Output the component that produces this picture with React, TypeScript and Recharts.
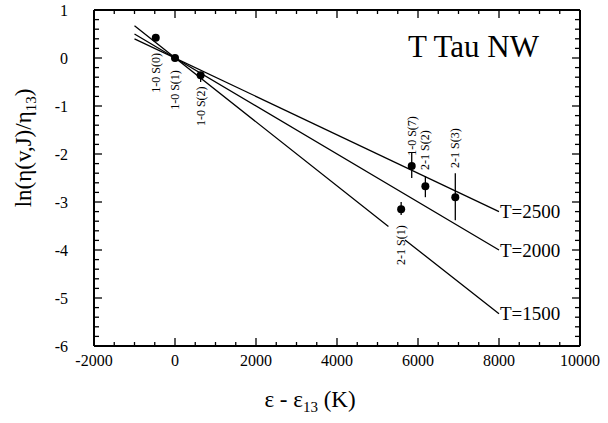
import React from 'react';
import { ComposedChart, Line, Scatter, XAxis, YAxis, ErrorBar, LabelList } from 'recharts';

const FONT = '"Liberation Serif", "Times New Roman", serif';

// tick values (major + minor), majors get labels
const xTicks = [
  -2000, -1500, -1000, -500, 0, 500, 1000, 1500, 2000, 2500, 3000, 3500, 4000,
  4500, 5000, 5500, 6000, 6500, 7000, 7500, 8000, 8500, 9000, 9500, 10000,
];
const yTicks = Array.from({ length: 36 }, (_, i) => Math.round((-6 + i * 0.2) * 10) / 10);

// measured lines
const lineNames = ['1-0 S(0)', '1-0 S(1)', '1-0 S(2)', '1-0 S(7)', '2-1 S(1)', '2-1 S(2)', '2-1 S(3)'];
const energies = [-475, 0, 633, 5845, 5584, 6182, 6921];
const lnValues = [0.42, 0, -0.36, -2.25, -3.15, -2.67, -2.9];
const errLow = [0, 0, 0.14, 0.25, 0.12, 0.23, 0.48];
const errHigh = [0, 0, 0.07, 0.27, 0.15, 0.21, 0.5];

// model lines
const t2500 = [
  { x: -1000, y: 0.4 },
  { x: 8000, y: -3.2 },
];
const t2000 = [
  { x: -1000, y: 0.5 },
  { x: 8000, y: -4.0 },
];
const t1500 = [
  { x: -1000, y: 0.67 },
  { x: 5270, y: -3.51 },
  { x: 5475, y: null },
  { x: 5680, y: -3.79 },
  { x: 8000, y: -5.33 },
];

const points = lineNames.map((name, i) => ({
  name,
  x: energies[i],
  y: lnValues[i],
  err: [errLow[i], errHigh[i]],
}));

// label placement (px, + = below the point)
const labelShift: Record<string, number> = {
  '1-0 S(0)': 35,
  '1-0 S(1)': 32,
  '1-0 S(2)': 31,
  '1-0 S(7)': -30,
  '2-1 S(1)': 36,
  '2-1 S(2)': -36,
  '2-1 S(3)': -49,
};

const isMajorX = (v: number) => v % 2000 === 0;
const isMajorY = (v: number) => Math.abs(v - Math.round(v)) < 1e-6;

const bottomTick = (props: any) => {
  const { x, y, payload } = props;
  const major = isMajorX(payload.value);
  return (
    <g>
      <line x1={x} x2={x} y1={y} y2={y - (major ? 8 : 4)} stroke="#000" strokeWidth={1.3} />
      {major && (
        <text x={x} y={y + 14} textAnchor="middle" dominantBaseline="central" fontSize={16} fontFamily={FONT} fill="#000">
          {payload.value}
        </text>
      )}
    </g>
  );
};

const topTick = (props: any) => {
  const { x, y, payload } = props;
  const major = isMajorX(payload.value);
  return <line x1={x} x2={x} y1={y} y2={y + (major ? 8 : 4)} stroke="#000" strokeWidth={1.3} />;
};

const leftTick = (props: any) => {
  const { x, y, payload } = props;
  const major = isMajorY(payload.value);
  return (
    <g>
      <line x1={x} x2={x + (major ? 8 : 5)} y1={y} y2={y} stroke="#000" strokeWidth={1.3} />
      {major && (
        <text x={x - 26} y={y} textAnchor="end" dominantBaseline="central" fontSize={16} fontFamily={FONT} fill="#000">
          {Math.round(payload.value)}
        </text>
      )}
    </g>
  );
};

const rightTick = (props: any) => {
  const { x, y, payload } = props;
  const major = isMajorY(payload.value);
  return <line x1={x} x2={x - (major ? 8 : 5)} y1={y} y2={y} stroke="#000" strokeWidth={1.3} />;
};

const PointShape = (props: any) => {
  const { cx, cy, payload } = props;
  const shift = labelShift[payload.name] ?? 30;
  return (
    <g>
      <circle cx={cx} cy={cy} r={4} fill="#000" />
      <text
        transform={`translate(${cx},${cy + shift}) rotate(-90)`}
        textAnchor="middle"
        dominantBaseline="central"
        fontSize={12}
        fontFamily={FONT}
        fill="#000"
      >
        {payload.name}
      </text>
    </g>
  );
};

const endLabel = (text: string, last: number) => (props: any) => {
  const { x, y, index } = props;
  if (index !== last) return null;
  return (
    <text x={x + 1} y={y} dominantBaseline="central" fontSize={19} fontFamily={FONT} fill="#000">
      {text}
    </text>
  );
};

const axisLine = { stroke: '#000', strokeWidth: 2 };

export default function App() {
  return (
    <div style={{ position: 'absolute', left: 0, top: 0, width: 608, height: 423, background: '#fff' }}>
      <ComposedChart width={608} height={423} margin={{ top: 9, right: 27, bottom: 0, left: 0 }}>
        <XAxis
          xAxisId="bottom"
          type="number"
          dataKey="x"
          domain={[-2000, 10000]}
          ticks={xTicks}
          interval={0}
          height={77}
          stroke="#000"
          axisLine={axisLine}
          tickLine={false}
          tickSize={0}
          tickMargin={0}
          tick={bottomTick}
        />
        <XAxis
          xAxisId="top"
          orientation="top"
          type="number"
          dataKey="x"
          domain={[-2000, 10000]}
          ticks={xTicks}
          interval={0}
          height={1}
          stroke="#000"
          axisLine={axisLine}
          tickLine={false}
          tickSize={0}
          tickMargin={0}
          tick={topTick}
        />
        <YAxis
          yAxisId="left"
          type="number"
          domain={[-6, 1]}
          ticks={yTicks}
          interval={0}
          width={94}
          stroke="#000"
          axisLine={axisLine}
          tickLine={false}
          tickSize={0}
          tickMargin={0}
          tick={leftTick}
        />
        <YAxis
          yAxisId="right"
          orientation="right"
          type="number"
          domain={[-6, 1]}
          ticks={yTicks}
          interval={0}
          width={1}
          stroke="#000"
          axisLine={axisLine}
          tickLine={false}
          tickSize={0}
          tickMargin={0}
          tick={rightTick}
        />
        <Line xAxisId="bottom" yAxisId="left" data={t2500} dataKey="y" type="linear" stroke="#000" strokeWidth={1.3} dot={false} isAnimationActive={false}>
          <LabelList dataKey="y" content={endLabel('T=2500', t2500.length - 1)} />
        </Line>
        <Line xAxisId="bottom" yAxisId="left" data={t2000} dataKey="y" type="linear" stroke="#000" strokeWidth={1.3} dot={false} isAnimationActive={false}>
          <LabelList dataKey="y" content={endLabel('T=2000', t2000.length - 1)} />
        </Line>
        <Line xAxisId="bottom" yAxisId="left" data={t1500} dataKey="y" type="linear" stroke="#000" strokeWidth={1.3} dot={false} connectNulls={false} isAnimationActive={false}>
          <LabelList dataKey="y" content={endLabel('T=1500', t1500.length - 1)} />
        </Line>
        <Line xAxisId="top" yAxisId="right" data={t2500} dataKey="y" stroke="none" dot={false} legendType="none" isAnimationActive={false} />
        <Scatter xAxisId="bottom" yAxisId="left" data={points} dataKey="y" shape={<PointShape />} isAnimationActive={false}>
          <ErrorBar dataKey="err" direction="y" width={0} stroke="#000" strokeWidth={1.3} />
        </Scatter>
      </ComposedChart>
      <svg width={608} height={423} style={{ position: 'absolute', left: 0, top: 0, pointerEvents: 'none' }}>
        <text x={408} y={57} fontSize={31} fontFamily={FONT} fill="#000">
          T Tau NW
        </text>
        <text x={310} y={407} textAnchor="middle" fontSize={23} fontFamily={FONT} fill="#000">
          ε - ε<tspan fontSize={15} dy={5}>13</tspan>
          <tspan dy={-5}> (K)</tspan>
        </text>
        <text transform="translate(31,148) rotate(-90)" textAnchor="middle" fontSize={23} fontFamily={FONT} fill="#000">
          ln(η(v,J)/η<tspan fontSize={15} dy={5}>13</tspan>
          <tspan dy={-5}>)</tspan>
        </text>
      </svg>
    </div>
  );
}
